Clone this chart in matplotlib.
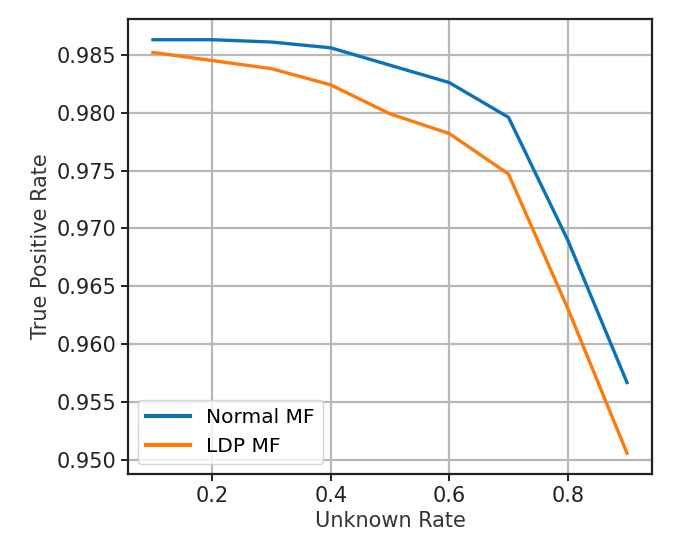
import numpy as np
import matplotlib
matplotlib.use('Agg')
import matplotlib.pyplot as plt

# unknown rate vs true positive rate
unknown_rate = [0.1, 0.2, 0.3, 0.4, 0.5, 0.6, 0.7, 0.8, 0.9]
normal_mf = [0.9863, 0.9863, 0.9861, 0.9856, 0.9841, 0.9826, 0.9796, 0.9690, 0.9567]
ldp_mf = [0.9852, 0.9845, 0.9838, 0.9824, 0.9799, 0.9782, 0.9747, 0.9631, 0.9506]

plt.rcParams['font.family'] = 'DejaVu Sans'
fig = plt.figure(figsize=(6.8, 5.44), dpi=100)
ax = fig.add_axes([0.188, 0.129, 0.771, 0.836])

ax.plot(unknown_rate, normal_mf, color='#0a72ba', lw=2.4, label='Normal MF')
ax.plot(unknown_rate, ldp_mf, color='#ff7a0c', lw=2.4, label='LDP MF')

ax.set_xticks([0.2, 0.4, 0.6, 0.8])
ax.set_yticks(np.arange(0.950, 0.9851, 0.005))
ax.set_yticklabels(['%.3f' % v for v in np.arange(0.950, 0.9851, 0.005)])
ax.grid(True, color='#b8b8b8', lw=1.6)
ax.set_axisbelow(True)
for s in ax.spines.values():
    s.set_linewidth(1.6)
    s.set_color('#222222')
ax.tick_params(labelsize=15, width=1.4, length=5, colors='#222222')
ax.set_xlabel('Unknown Rate', fontsize=15, color='#333333')
ax.set_ylabel('True Positive Rate', fontsize=15, color='#333333')
ax.margins(x=0.053)

leg = ax.legend(loc='lower left', fontsize=14.5, handlelength=2.2, framealpha=0.8)
for l in leg.get_lines():
    l.set_linewidth(3)

fig.savefig('out.png', dpi=100)
